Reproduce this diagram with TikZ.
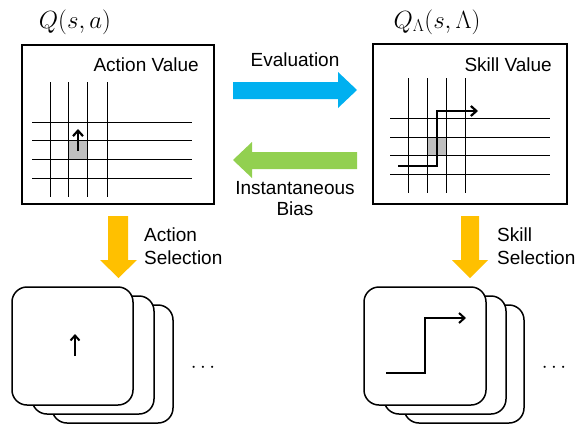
\documentclass[tikz,border=0pt]{standalone}
\usepackage{fontspec}
\setmainfont{Liberation Sans}
\usetikzlibrary{arrows.meta}
\definecolor{evalblue}{HTML}{00B0F0}
\definecolor{biasgreen}{HTML}{92D050}
\definecolor{selyellow}{HTML}{FFC000}
\definecolor{cellgray}{HTML}{BFBFBF}
\tikzset{
  panel/.style={draw=black,line width=1.6pt,fill=white},
  gridline/.style={draw=black,line width=0.8pt},
  card/.style={draw=black,line width=1.5pt,fill=white,rounded corners=15pt},
  lbl/.style={font=\fontsize{19}{22}\selectfont,inner sep=0pt},
  mathlbl/.style={font=\fontsize{26}{30}\selectfont,inner sep=0pt},
  dotslbl/.style={font=\fontsize{21}{24}\selectfont,inner sep=0pt},
  path arrow/.style={line width=2.2pt,-{Straight Barb[length=5.5pt,width=10pt]}},
}
\begin{document}
\begin{tikzpicture}[x=1pt,y=-1pt]
\useasboundingbox (0,0) rectangle (576,426);
% titles
\node[mathlbl] (qa) at (75,22) {$Q(s,a)$};
\node[mathlbl] (ql) at (437,22) {$Q_\Lambda(s,\Lambda)$};
% panels
\draw[panel] (22,45) rectangle (214,204);
\draw[panel] (373,44) rectangle (567,204);
\node[lbl,anchor=base east] (av) at (199,71) {Action Value};
\node[lbl,anchor=base east] (sv) at (552,71) {Skill Value};
% left grid
\fill[cellgray] (68,140) rectangle (87,159);
\foreach \x in {50,68,87,107} \draw[gridline] (\x,82) -- (\x,197);
\foreach \y in {122,140,159,178} \draw[gridline] (32,\y) -- (192,\y);
\draw[path arrow] (78,151) -- (78,129);
% right grid
\fill[cellgray] (427,137) rectangle (446,155);
\foreach \x in {408,427,446,465} \draw[gridline] (\x,78) -- (\x,193);
\foreach \y in {118,137,155,174} \draw[gridline] (390,\y) -- (550,\y);
\draw[path arrow] (398,166) -- (437,166) -- (437,111) -- (478,111);
% big arrows
\fill[evalblue] (233,82) -- (338,82) -- (338,72) -- (357,90) -- (338,108) -- (338,99) -- (233,99) -- cycle;
\fill[biasgreen] (357,152) -- (252,152) -- (252,142) -- (233,160) -- (252,178) -- (252,169) -- (357,169) -- cycle;
\fill[selyellow] (108,216) -- (128,216) -- (128,260) -- (137,260) -- (118.5,278) -- (100,260) -- (108,260) -- cycle;
\fill[selyellow] (461,216) -- (479,216) -- (479,260) -- (488,260) -- (470,278) -- (452,260) -- (461,260) -- cycle;
% arrow labels
\node[lbl] (ev) at (295,60) {Evaluation};
\node[lbl] (ib1) at (295,188) {Instantaneous};
\node[lbl] (ib2) at (295,209) {Bias};
\node[lbl,anchor=west] (as1) at (144,235) {Action};
\node[lbl,anchor=west] (as2) at (144,258) {Selection};
\node[lbl,anchor=west] (ss1) at (497,235) {Skill};
\node[lbl,anchor=west] (ss2) at (497,258) {Selection};
% left cards
\draw[card] (52,305) rectangle (173,423);
\draw[card] (32,296) rectangle (154,414);
\draw[card] (12,287) rectangle (133,405);
\draw[line width=2pt,-{Straight Barb[length=5pt,width=9pt]}] (75,356) -- (75,334);
\node[dotslbl] (ldots) at (203,368) {$\cdots$};
% right cards
\draw[card] (404,305) rectangle (524,423);
\draw[card] (384,296) rectangle (506,414);
\draw[card] (364,287) rectangle (486,405);
\draw[line width=2pt,-{Straight Barb[length=5.5pt,width=10pt]}] (386,373) -- (425,373) -- (425,318) -- (466,318);
\node[dotslbl] (rdots) at (554,368) {$\cdots$};
\end{tikzpicture}
\end{document}
